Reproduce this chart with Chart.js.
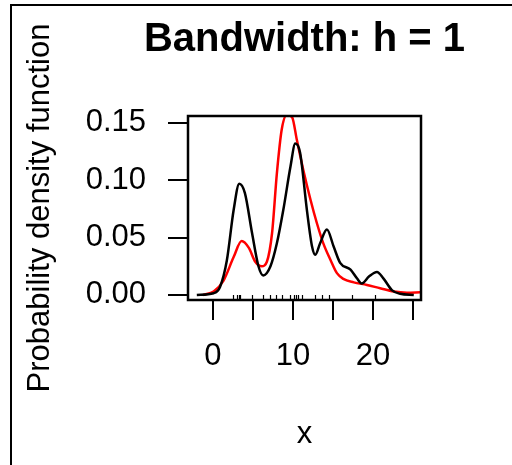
<!DOCTYPE html>
<html>
<head>
<meta charset="utf-8">
<script src="https://cdn.jsdelivr.net/npm/chart.js@4"></script>
<style>
  html, body { margin: 0; padding: 0; background: #fff; }
  #wrap { width: 512px; height: 465px; }
</style>
</head>
<body>
<div id="wrap"><canvas id="kde"></canvas></div>
<script>
var FONT = "'Liberation Sans', Arial, sans-serif";

// black curve: fixed bandwidth h = 1
var blackX = [-2, 0.1, 0.9, 1.75, 2.6, 3.3, 4.0, 4.9, 5.7, 6.3, 7.2, 8.0, 8.8, 9.7, 10.3, 10.9, 11.75, 12.4, 12.8, 13.4, 14.25, 15.1, 15.9, 17.2, 18.0, 18.6, 19.5, 20.5, 21.3, 22.4, 23.4, 25.1];
var blackY = [0, 0.0015, 0.007, 0.03, 0.074, 0.097, 0.089, 0.054, 0.025, 0.017, 0.025, 0.045, 0.074, 0.112, 0.132, 0.124, 0.074, 0.042, 0.035, 0.045, 0.057, 0.042, 0.028, 0.022, 0.0145, 0.010, 0.016, 0.020, 0.0145, 0.004, 0.001, 0];

// red curve
var redX = [-1.2, 0.1, 1.3, 2.6, 3.6, 4.5, 5.3, 6.1, 6.75, 7.4, 8.0, 8.6, 9.25, 9.9, 10.5, 11.3, 12.2, 13.0, 13.8, 14.7, 15.5, 16.3, 17.6, 19.25, 20.9, 22.6, 24.25, 25.9];
var redY = [0, 0.003, 0.012, 0.033, 0.047, 0.041, 0.029, 0.025, 0.029, 0.054, 0.106, 0.144, 0.157, 0.155, 0.135, 0.109, 0.083, 0.0625, 0.045, 0.0305, 0.019, 0.014, 0.011, 0.0087, 0.0058, 0.003, 0.002, 0.0023];

// observations (rug)
var rug = [2.5, 3.0, 3.25, 3.4, 4.9, 6.25, 7.2, 7.9, 8.6, 9.7, 10.1, 10.4, 10.7, 11.2, 12.8, 13.6, 14.5, 17.4, 20.3];

var xTicks = [0, 5, 10, 15, 20, 25];
var xTickLabels = ['0', '', '10', '', '20', ''];
var yTicks = [0, 0.05, 0.10, 0.15];
var yTickLabels = ['0.00', '0.05', '0.10', '0.15'];

function pts(xs, ys) {
  return xs.map(function (x, i) { return { x: x, y: ys[i] }; });
}

var framePlugin = {
  id: 'frame',
  afterDraw: function (chart) {
    var c = chart.ctx, a = chart.chartArea;
    c.save();
    c.strokeStyle = '#000';
    // outer frame (left and top)
    c.lineWidth = 2;
    c.beginPath();
    c.moveTo(11, 465); c.lineTo(11, 5); c.lineTo(512, 5);
    c.stroke();
    // plot box
    c.lineWidth = 2.5;
    c.strokeRect(a.left, a.top, a.right - a.left, a.bottom - a.top);
    // rug
    c.lineWidth = 1.2;
    var xs = chart.scales.x;
    rug.forEach(function (v) {
      var px = Math.round(xs.getPixelForValue(v)) + 0.5;
      c.beginPath();
      c.moveTo(px, a.bottom);
      c.lineTo(px, a.bottom - 5);
      c.stroke();
    });
    // title centred over the plot
    c.fillStyle = '#000';
    c.font = 'bold 40px ' + FONT;
    c.textAlign = 'center';
    c.textBaseline = 'middle';
    c.fillText('Bandwidth: h = 1', (a.left + a.right) / 2, 40);
    c.restore();
  }
};

new Chart(document.getElementById('kde'), {
  type: 'line',
  data: {
    datasets: [{
      label: 'h = 1',
      data: pts(blackX, blackY),
      borderColor: '#000',
      borderWidth: 2.5,
      pointRadius: 0,
      cubicInterpolationMode: 'monotone'
    }, {
      label: 'other',
      data: pts(redX, redY),
      borderColor: '#ff0000',
      borderWidth: 2.5,
      pointRadius: 0,
      cubicInterpolationMode: 'monotone'
    }]
  },
  options: {
    responsive: true,
    maintainAspectRatio: false,
    animation: false,
    events: [],
    layout: { padding: { top: 116, right: 91, left: 0, bottom: 0 } },
    plugins: {
      legend: { display: false },
      tooltip: { enabled: false }
    },
    scales: {
      x: {
        type: 'linear',
        min: -3.1,
        max: 26,
        afterFit: function (s) { s.height = 165; },
        afterBuildTicks: function (s) { s.ticks = xTicks.map(function (v) { return { value: v }; }); },
        border: { display: false },
        grid: { drawOnChartArea: false, drawTicks: true, tickLength: 20, color: '#000', lineWidth: 2 },
        ticks: {
          autoSkip: false,
          maxRotation: 0,
          padding: 18,
          color: '#000',
          font: { family: FONT, size: 31 },
          callback: function (v, i) { return xTickLabels[i]; }
        },
        title: {
          display: true,
          text: 'x',
          color: '#000',
          font: { family: FONT, size: 31 },
          padding: { top: 0, bottom: 12 }
        }
      },
      y: {
        min: -0.0044,
        max: 0.156,
        afterFit: function (s) { s.width = 188; },
        afterBuildTicks: function (s) { s.ticks = yTicks.map(function (v) { return { value: v }; }); },
        border: { display: false },
        grid: { drawOnChartArea: false, drawTicks: true, tickLength: 20, color: '#000', lineWidth: 2 },
        ticks: {
          padding: 22,
          color: '#000',
          font: { family: FONT, size: 31 },
          callback: function (v, i) { return yTickLabels[i]; }
        },
        title: {
          display: true,
          text: 'Probability density function',
          color: '#000',
          font: { family: FONT, size: 31 },
          padding: { top: 22, bottom: 0 }
        }
      }
    }
  },
  plugins: [framePlugin]
});
</script>
</body>
</html>
